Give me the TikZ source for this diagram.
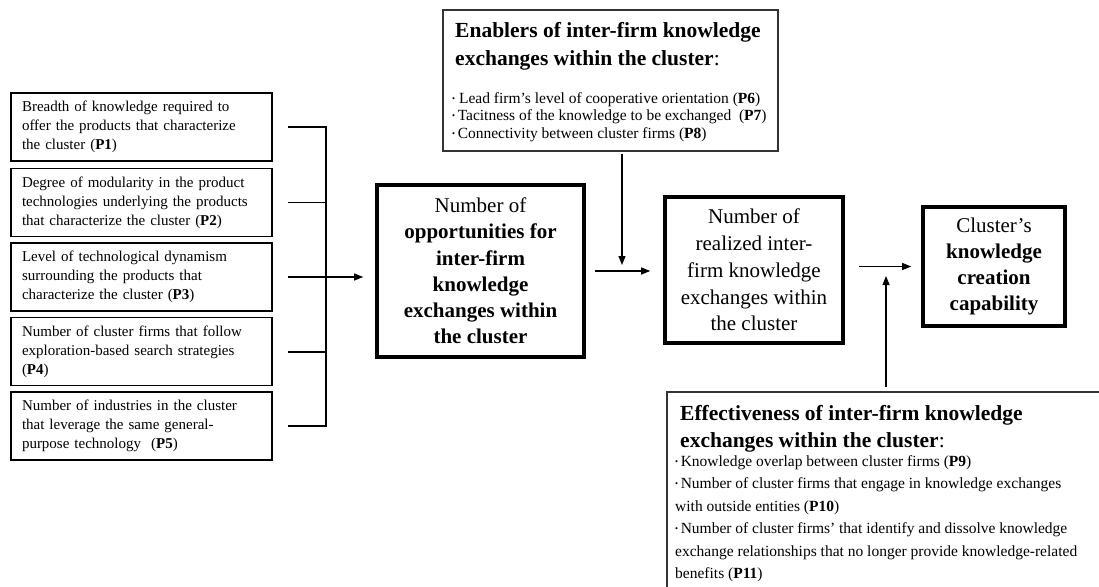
\documentclass[tikz,border=0pt]{standalone}
\usepackage{fontspec}
\usepackage{graphicx}
\setmainfont{Liberation Serif}
\usetikzlibrary{arrows.meta}
\newcommand{\dotmark}{\raisebox{0.25ex}{\scalebox{0.55}{\textbullet}}}
\tikzset{
  leftbox/.style={draw, line width=1.3pt, minimum width=261pt, minimum height=68pt,
    text width=239pt, inner xsep=11pt, align=left, font=\fontsize{15}{19}\selectfont},
  keybox/.style={draw, line width=3.6pt, align=center, inner sep=0pt},
  panel/.style={draw=black!80, line width=1.3pt, inner sep=0pt},
  paneltext/.style={anchor=north west, inner sep=0pt, align=left},
  link/.style={line width=1.3pt},
  arr/.style={line width=1.2pt, -{Triangle[length=9pt,width=7pt]}}
}
\begin{document}
\begin{tikzpicture}[x=1pt,y=-1pt]
\useasboundingbox (0,0) rectangle (1099,586);

% factors on the left
\node[leftbox] (p1) at (141.5,127) {Breadth of knowledge required to\\offer the products that characterize\\the cluster (\textbf{P1})};
\node[leftbox] (p2) at (141.5,202.5) {Degree of modularity in the product\\technologies underlying the products\\that characterize the cluster (\textbf{P2})};
\node[leftbox] (p3) at (141.5,277) {Level of technological dynamism\\surrounding the products that\\characterize the cluster (\textbf{P3})};
\node[leftbox] (p4) at (141.5,351.5) {Number of cluster firms that follow\\exploration-based search strategies\\(\textbf{P4})};
\node[leftbox] (p5) at (141.5,426) {Number of industries in the cluster\\that leverage the same general-\\purpose technology\ \ (\textbf{P5})};

% main chain
\node[keybox, minimum width=207pt, minimum height=172pt, font=\fontsize{21}{26.2}\selectfont] (opp) at (480.5,271)
  {Number of\\\textbf{opportunities for}\\\textbf{inter-firm}\\\textbf{knowledge}\\\textbf{exchanges within}\\\textbf{the cluster}};
\node[keybox, minimum width=178pt, minimum height=146pt, font=\fontsize{21}{26.8}\selectfont] (real) at (754,270)
  {Number of\\realized inter-\\firm knowledge\\exchanges\ within\\the cluster};
\node[keybox, minimum width=142pt, minimum height=119pt, font=\fontsize{21}{26}\selectfont] (cap) at (994,266.5)
  {Cluster’s\\\textbf{knowledge}\\\textbf{creation}\\\textbf{capability}};

% enablers panel
\node[panel, minimum width=335pt, minimum height=141pt] (enab) at (610.5,80.5) {};
\node[paneltext, font=\fontsize{21.5}{28}\selectfont\bfseries] (enabT) at (455,22)
  {Enablers of inter-firm knowledge\\exchanges within the cluster\textmd{:}};
\node[paneltext, font=\fontsize{15.5}{17.5}\selectfont] (enabB) at (452,92)
  {\dotmark\ Lead firm’s level of cooperative orientation (\textbf{P6})\\
   \dotmark\,Tacitness of the knowledge to be exchanged\ \ (\textbf{P7})\\
   \dotmark\,Connectivity between cluster firms (\textbf{P8})};

% effectiveness panel
\node[panel, minimum width=435pt, minimum height=208pt] (eff) at (884.5,496) {};
\node[paneltext, font=\fontsize{21.5}{27}\selectfont\bfseries] (effT) at (680,405)
  {Effectiveness of inter-firm knowledge\\exchanges within the cluster\textmd{:}};
\node[paneltext, font=\fontsize{15.5}{22.5}\selectfont] (effB) at (675,455)
  {\dotmark\,Knowledge overlap between cluster firms (\textbf{P9})\\
   \dotmark\,Number\ of cluster firms that engage in knowledge\ exchanges\\
   with outside entities (\textbf{P10})\\
   \dotmark\,Number\ of cluster firms’ that identify and dissolve knowledge\\
   exchange\ relationships that no longer provide knowledge-related\\
   benefits (\textbf{P11})};

% bracket joining the five factors
\coordinate (bus) at (326,0);
\draw[link] ([xshift=15pt]p1.east) -| (bus |- p5.east) -- ([xshift=15pt]p5.east);
\draw[link] ([xshift=15pt]p2.east) -- (bus |- p2.east);
\draw[link, line width=2pt] ([xshift=15pt]p4.east) -- (bus |- p4.east);
\draw[link, line width=2pt] ([xshift=15pt]p5.east) -- (bus |- p5.east);
\draw[arr, shorten >=12pt] ([xshift=15pt]p3.east) -- (opp.west |- p3.east);

% arrows along the chain
\draw[arr, shorten <=9pt, shorten >=13pt] (opp.east) -- (opp.east -| real.west);
\draw[arr, shorten <=14pt, shorten >=10pt] (real.east |- cap.west) -- (cap.west);

% moderating arrows
\coordinate (m1) at (622,265);
\draw[arr, shorten <=2pt] (enab.south -| m1) -- (m1);
\coordinate (m2) at (886,276);
\draw[arr, shorten <=4pt] (eff.north -| m2) -- (m2);
\end{tikzpicture}
\end{document}
